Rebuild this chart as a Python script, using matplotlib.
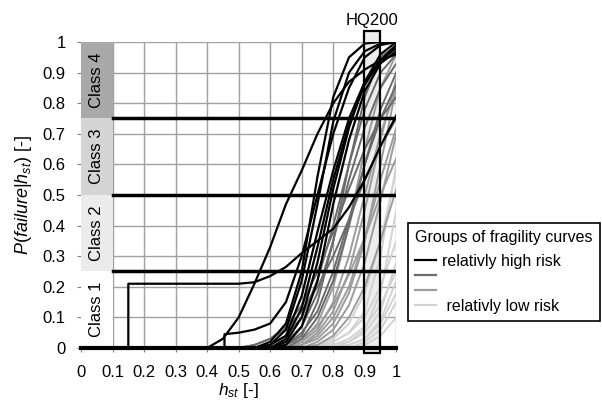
import matplotlib
matplotlib.use("Agg")
from matplotlib import pyplot as plt
from matplotlib.patches import Rectangle
from matplotlib.lines import Line2D
import numpy as np

plt.rcParams['font.family'] = ['Liberation Sans', 'DejaVu Sans']
plt.rcParams['mathtext.fontset'] = 'custom'
plt.rcParams['mathtext.it'] = 'Liberation Sans:italic'
plt.rcParams['mathtext.rm'] = 'Liberation Sans'

# common h_st grid for the fragility curves
hst = [0.40, 0.45, 0.50, 0.55, 0.60, 0.65, 0.70, 0.75, 0.80, 0.85, 0.90, 0.95, 1.00]

# relatively high risk (black)
high_risk = [
    [0, .03, .10, .21, .33, .47, .58, .70, .80, .87, .91, .94, .96],
    [0, 0, 0, 0, .02, .08, .25, .56, .82, .95, .995, 1, 1],
    [0, 0, 0, 0, .01, .06, .22, .47, .74, .90, .97, .995, 1],
    [0, 0, 0, 0, .01, .04, .17, .38, .58, .75, .87, .94, .98],
    [0, 0, 0, 0, 0, .03, .13, .33, .55, .73, .86, .94, .99],
    [0, 0, 0, 0, 0, .02, .10, .28, .52, .72, .87, .96, 1],
    [0, 0, 0, 0, 0, .01, .07, .22, .47, .68, .84, .93, .97],
]
# black curves with a jump
step1_x = [0.0, 0.15, 0.15, 0.50, 0.55, 0.60, 0.65, 0.70, 0.75, 0.80, 0.85, 0.90, 0.95, 1.00]
step1_y = [0, 0, 0.21, 0.21, 0.215, 0.235, 0.265, 0.31, 0.35, 0.39, 0.46, 0.55, 0.66, 0.76]
step2_x = [0.455, 0.455, 0.50, 0.55, 0.60, 0.65, 0.70, 0.75, 0.80, 0.85, 0.90, 0.95, 1.00]
step2_y = [0, 0.045, 0.05, 0.06, 0.08, 0.15, 0.30, 0.50, 0.70, 0.85, 0.95, 0.99, 1.0]

mid_high_risk = [
    [0, 0, 0, 0, .01, .04, .10, .22, .40, .60, .78, .90, .96],
    [0, 0, 0, 0, 0, .02, .07, .18, .35, .55, .72, .85, .93],
    [0, 0, 0, 0, 0, .01, .05, .12, .25, .42, .60, .75, .86],
    [0, 0, 0, .01, .03, .07, .14, .25, .38, .52, .65, .75, .82],
    [0, 0, 0, 0, 0, 0, .03, .10, .22, .40, .60, .78, .90],
    [0, 0, 0, .01, .03, .06, .12, .20, .30, .42, .55, .66, .75],
    [0, 0, 0, 0, 0, .01, .04, .15, .35, .60, .82, .95, .99],
]
mid_low_risk = [
    [0, 0, 0, 0, 0, 0, .02, .06, .15, .30, .50, .70, .85],
    [0, 0, 0, 0, 0, 0, .01, .04, .10, .20, .36, .55, .72],
    [0, 0, 0, 0, 0, 0, .01, .05, .12, .25, .45, .68, .88],
    [0, 0, 0, 0, 0, .01, .03, .07, .14, .24, .36, .50, .62],
    [0, 0, 0, 0, 0, 0, 0, .02, .06, .14, .28, .48, .70],
    [0, 0, 0, 0, 0, 0, .01, .03, .08, .18, .35, .60, .85],
    [0, 0, 0, 0, 0, 0, 0, .01, .04, .10, .20, .35, .52],
    [0, 0, 0, 0, 0, 0, .02, .08, .20, .40, .65, .85, .96],
]
low_risk = [
    [0, 0, 0, 0, 0, 0, 0, .01, .03, .08, .18, .35, .58],
    [0, 0, 0, 0, 0, 0, 0, 0, .02, .05, .10, .20, .35],
    [0, 0, 0, 0, 0, 0, 0, 0, .01, .03, .07, .14, .25],
    [0, 0, 0, 0, 0, 0, 0, 0, 0, .02, .05, .12, .28],
    [0, 0, 0, 0, 0, 0, 0, 0, 0, .01, .03, .08, .18],
    [0, 0, 0, 0, 0, 0, 0, 0, 0, 0, .02, .06, .15],
    [0, 0, 0, 0, 0, 0, 0, 0, 0, 0, .01, .04, .10],
    [0, 0, 0, 0, 0, 0, 0, .01, .02, .05, .12, .30, .60],
    [0, 0, 0, 0, 0, 0, 0, 0, .01, .02, .06, .18, .45],
    [0, 0, 0, 0, 0, 0, 0, 0, 0, .01, .03, .09, .22],
]

class_names = ["Class 1", "Class 2", "Class 3", "Class 4"]
class_limits = [0, 0.25, 0.5, 0.75, 1.0]
class_colors = ["white", "#ebebeb", "#d4d4d4", "#a9a9a9"]
hq200 = (0.897, 0.948)

group_colors = ["black", "#6a6a6a", "#9c9c9c", "#d2d2d2"]
group_labels = ["relativly high risk", "", "", " relativly low risk"]

fig = plt.figure(figsize=(6.02, 4.03), dpi=100)
ax = fig.add_axes([0.1346, 0.1365, 0.5237, 0.7593])

ax.set_xlim(0, 1)
ax.set_ylim(0, 1)
ticks = np.round(np.arange(0, 1.01, 0.1), 1)
ax.set_xticks(ticks)
ax.set_yticks(ticks)
ax.set_xticklabels(["%g" % t for t in ticks])
ax.set_yticklabels(["%g" % t for t in ticks])
ax.tick_params(labelsize=12, length=3, color="#808080")
ax.tick_params(axis="x", pad=9)
ax.tick_params(axis="y", pad=8)
for s in ax.spines.values():
    s.set_visible(False)
ax.grid(True, color="#a0a0a0", lw=1)
ax.set_axisbelow(True)

# class bands
for i in range(4):
    ax.add_patch(Rectangle((0, class_limits[i]), 0.1, class_limits[i + 1] - class_limits[i],
                           fc=class_colors[i], ec="none", zorder=1.5))
    ax.text(0.05, (class_limits[i] + class_limits[i + 1]) / 2, class_names[i],
            rotation=90, ha="center", va="center", fontsize=12, zorder=3)

# HQ200 band
ax.add_patch(Rectangle((hq200[0], -0.017), hq200[1] - hq200[0], 1.052,
                       fc="#ededed", ec="none", clip_on=False, zorder=1.6))
ax.text(sum(hq200) / 2, 1.045, "HQ200", ha="center", va="bottom", fontsize=12)

# curves
for y in low_risk:
    ax.plot(hst, y, color=group_colors[3], lw=1.4, zorder=2)
for y in mid_low_risk:
    ax.plot(hst, y, color=group_colors[2], lw=1.4, zorder=2.1)
for y in mid_high_risk:
    ax.plot(hst, y, color=group_colors[1], lw=1.4, zorder=2.2)
for y in high_risk:
    ax.plot(hst, y, color=group_colors[0], lw=1.6, zorder=2.3)
ax.plot(step1_x, step1_y, color="black", lw=1.6, zorder=2.3)
ax.plot(step2_x, step2_y, color="black", lw=1.6, zorder=2.3)

# class boundaries
for lim in class_limits[1:4]:
    ax.plot([0.1, 1], [lim, lim], color="black", lw=2.5, zorder=4)
ax.plot([0, 1], [0, 0], color="black", lw=3, zorder=4, clip_on=False)

ax.add_patch(Rectangle((hq200[0], -0.017), hq200[1] - hq200[0], 1.052,
                       fc="none", ec="black", lw=1.6, clip_on=False, zorder=5))

ax.set_xlabel(r"$h_{st}$ [-]", fontsize=12.5, labelpad=1)
ax.set_ylabel(r"$P(failure|h_{st})$ [-]", fontsize=13, labelpad=6)

handles = [Line2D([], [], color=c, lw=1.6) for c in group_colors]
leg = fig.legend(handles, group_labels, title="Groups of fragility curves",
                 loc="upper left", bbox_to_anchor=(408 / 602, 1 - 223 / 403),
                 borderaxespad=0, fontsize=11.5, title_fontsize=11.5,
                 handlelength=1.3, handletextpad=0.4,
                 labelspacing=0.0, borderpad=0.45, fancybox=False, framealpha=1,
                 edgecolor="black")
leg.get_frame().set_linewidth(1.2)
leg._legend_box.align = "left"
leg._legend_box.sep = 6

fig.savefig("out.png", dpi=100)
